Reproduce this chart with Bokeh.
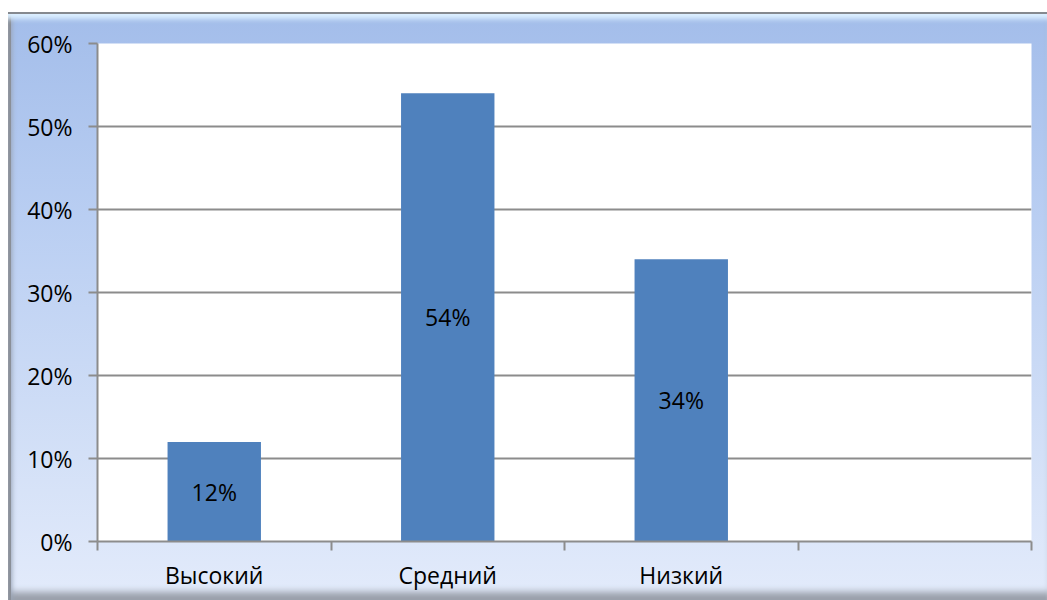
from bokeh.plotting import figure
from bokeh.models import Range1d, FixedTicker, ColumnDataSource
from bokeh.core.properties import value
from bokeh.embed import file_html
from bokeh.resources import INLINE

categories = ["Высокий", "Средний", "Низкий"]
n_slots = 4
values = [12, 54, 34]
value_labels = ["12%", "54%", "34%"]
y_ticks = [0, 10, 20, 30, 40, 50, 60]
y_tick_labels = ["0%", "10%", "20%", "30%", "40%", "50%", "60%"]

FONT = "Open Sans"
FS = "23px"

xs = [i + 0.5 for i in range(len(categories))]
src = ColumnDataSource(dict(x=xs, top=values, mid=[v / 2 for v in values], lab=value_labels))

p = figure(frame_width=934, frame_height=498, output_backend="svg", toolbar_location=None,
           x_range=Range1d(0, n_slots), y_range=Range1d(0, 60),
           min_border_left=89, min_border_right=16, min_border_top=31, min_border_bottom=59)
p.styles = {
    "margin-top": "12px",
    "margin-left": "8px",
    "background": "linear-gradient(180deg, #a3bdea 0%, #b9cef2 35%, #d3e0f7 75%, #e3ebfb 100%)",
    "box-shadow": "inset 0 2px 0 #85898f, inset 0 10px 5px -3px #dcefff, inset 3px 0 0 #8a8f98, inset 7px 0 5px -3px #9aa6b8, inset 0 -12px 7px -4px #9aa0aa",
}
p.border_fill_alpha = 0
p.background_fill_color = "white"
p.outline_line_color = None

p.vbar(x="x", top="top", width=0.4, bottom=0, source=src, fill_color="#4f81bd", line_color=None)
p.text(x="x", y="mid", text="lab", source=src, text_align="center", text_baseline="middle",
       text_font=value(FONT), text_font_size=FS, text_color="black")

grid_gray = "#8c8c8c"
p.xgrid.grid_line_color = None
p.ygrid.grid_line_color = grid_gray
p.ygrid.grid_line_width = 2
p.ygrid.ticker = FixedTicker(ticks=y_ticks)

p.yaxis.ticker = FixedTicker(ticks=y_ticks)
p.yaxis.major_label_overrides = {t: l for t, l in zip(y_ticks, y_tick_labels)}
p.yaxis.axis_line_color = grid_gray
p.yaxis.axis_line_width = 2
p.yaxis.major_tick_line_color = grid_gray
p.yaxis.major_tick_line_width = 2
p.yaxis.major_tick_out = 9
p.yaxis.major_tick_in = 0
p.yaxis.minor_tick_line_color = None
p.yaxis.major_label_standoff = 16
p.yaxis.major_label_text_font = FONT
p.yaxis.major_label_text_font_size = FS
p.yaxis.major_label_text_color = "black"

p.xaxis.ticker = FixedTicker(ticks=xs, minor_ticks=list(range(n_slots + 1)))
p.xaxis.major_label_overrides = {x: c for x, c in zip(xs, categories)}
p.xaxis.axis_line_color = grid_gray
p.xaxis.axis_line_width = 2
p.xaxis.major_tick_line_color = None
p.xaxis.major_tick_out = 0
p.xaxis.major_tick_in = 0
p.xaxis.minor_tick_line_color = grid_gray
p.xaxis.minor_tick_line_width = 2
p.xaxis.minor_tick_out = 9
p.xaxis.minor_tick_in = 0
p.xaxis.major_label_standoff = 8
p.xaxis.major_label_text_font = FONT
p.xaxis.major_label_text_font_size = FS
p.xaxis.major_label_text_color = "black"

open("out.html", "w").write(file_html(p, INLINE))
